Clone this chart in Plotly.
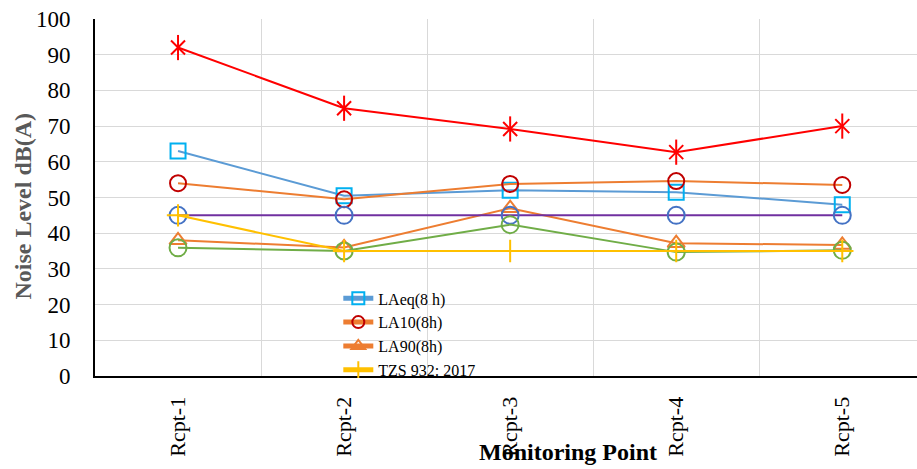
import plotly.graph_objects as go

categories = ["Rcpt-1", "Rcpt-2", "Rcpt-3", "Rcpt-4", "Rcpt-5"]
laeq = [63, 50.5, 52, 51.5, 48]
la10 = [54, 49.5, 53.8, 54.6, 53.5]
la90 = [38, 36, 47, 37.2, 36.7]
tzs = [45, 35, 35, 35, 35]
red_series = [92, 75, 69.2, 62.7, 70]
purple_series = [45, 45, 45, 45, 45]
green_series = [35.9, 35, 42.4, 34.7, 35.2]
y_ticks = [0, 10, 20, 30, 40, 50, 60, 70, 80, 90, 100]

FONT = "Liberation Serif, Times New Roman, serif"
fig = go.Figure()

def add(name, y, line_color, marker_color, symbol, size, show):
    fig.add_trace(go.Scatter(
        x=categories, y=y, name=name, mode="lines+markers",
        line=dict(color=line_color, width=2),
        marker=dict(symbol=symbol, size=size, color=marker_color,
                    line=dict(width=2, color=marker_color)),
        showlegend=show))

add("Series A", red_series, "#FF0000", "#FF0000", "x-thin-open", 14, False)
fig.add_trace(go.Scatter(x=categories, y=red_series, mode="markers", showlegend=False,
                         marker=dict(symbol="line-ns-open", size=18, color="#FF0000",
                                     line=dict(width=2, color="#FF0000"))))
add("LAeq(8 h)", laeq, "#5B9BD5", "#00B0F0", "square-open", 15, True)
add("LA10(8h)", la10, "#ED7D31", "#C00000", "circle-open", 16, True)
add("LA90(8h)", la90, "#ED7D31", "#ED7D31", "triangle-up-open", 15, True)
add("Series B", purple_series, "#7030A0", "#4472C4", "circle-open", 17, False)
add("Series C", green_series, "#70AD47", "#70AD47", "circle-open", 17, False)
add("TZS 932: 2017", tzs, "#FFC000", "#FFC000", "cross-thin-open", 16, True)

fig.update_layout(
    width=917, height=469,
    margin=dict(l=95, r=0, t=19, b=93),
    paper_bgcolor="white", plot_bgcolor="white",
    font=dict(family=FONT, color="black"),
    legend=dict(x=0.296, y=0.265, xanchor="left", yanchor="top",
                bgcolor="rgba(0,0,0,0)", font=dict(size=16, family=FONT),
                tracegroupgap=0, itemsizing="constant"),
    xaxis=dict(range=[-0.5, 4.45], tickson="boundaries", showgrid=True,
               gridcolor="#D9D9D9", gridwidth=1, ticks="", tickangle=-90,
               tickfont=dict(size=22, family=FONT), showline=True,
               linecolor="black", linewidth=2, ticklabelstandoff=10,
               zeroline=False, automargin=False),
    yaxis=dict(range=[0, 100], tickvals=y_ticks, showgrid=True,
               gridcolor="#D9D9D9", gridwidth=1, ticks="",
               tickfont=dict(size=23, family=FONT), showline=True,
               linecolor="black", linewidth=2, ticklabelstandoff=18,
               zeroline=False, automargin=False),
    annotations=[
        dict(text="<b>Noise Level dB(A)</b>", xref="paper", yref="paper",
             x=-0.087, y=0.476, xanchor="center", yanchor="middle",
             textangle=-90, showarrow=False,
             font=dict(size=24, color="#595959", family=FONT)),
        dict(text="<b>Monitoring Point</b>", xref="paper", yref="paper",
             x=0.575, y=-0.213, xanchor="center", yanchor="middle",
             showarrow=False, font=dict(size=24, color="black", family=FONT)),
    ],
)

fig.write_html("out.html", config={"displayModeBar": False},
               post_script="document.body.style.margin='0px';document.body.style.overflow='hidden';")
